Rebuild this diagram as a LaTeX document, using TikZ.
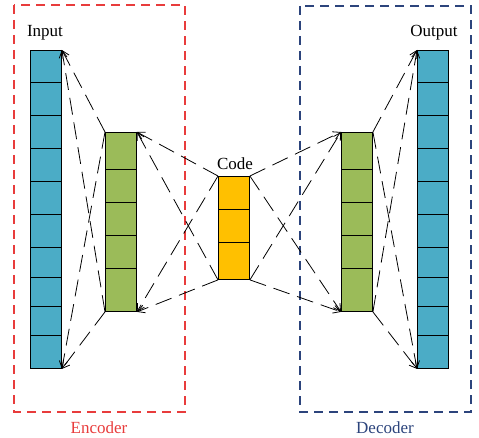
\documentclass[tikz,border=0pt]{standalone}
\usepackage{fontspec}
\setmainfont{Liberation Serif}
\usetikzlibrary{arrows.meta}
\definecolor{cellblue}{RGB}{75,172,198}
\definecolor{cellgreen}{RGB}{155,187,89}
\definecolor{cellgold}{RGB}{255,192,0}
\definecolor{encred}{RGB}{232,60,60}
\definecolor{decblue}{RGB}{44,68,124}
\begin{document}
\begin{tikzpicture}[x=1pt,y=-1pt,
  col/.style={draw=black,line width=0.9pt,inner sep=0pt,anchor=north west,minimum width=31pt},
  divider/.style={line width=0.9pt},
  conn/.style={line width=0.8pt,dash pattern=on 17pt off 8pt,-{Straight Barb[length=7pt,width=8pt]}},
  region/.style={line width=1.3pt,dash pattern=on 9pt off 6pt},
  lbl/.style={font=\fontsize{17}{19}\selectfont,inner sep=0pt}]
\useasboundingbox (0,0) rectangle (479,438);
% columns
\node[col,fill=cellblue,minimum height=318pt] (in) at (30,50) {};
\node[col,fill=cellgreen,minimum height=179pt] (e1) at (105,132) {};
\node[col,fill=cellgold,minimum height=103pt] (code) at (218,176) {};
\node[col,fill=cellgreen,minimum height=179pt] (d1) at (341,132) {};
\node[col,fill=cellblue,minimum height=318pt] (out) at (417,50) {};
% cell dividers
\foreach \yy in {82,115,148,181,214,247,277,306,335}{
  \draw[divider] (in.west |- 0,\yy) -- (in.east |- 0,\yy);
  \draw[divider] (out.west |- 0,\yy) -- (out.east |- 0,\yy);}
\foreach \yy in {169,202,235,268}{
  \draw[divider] (e1.west |- 0,\yy) -- (e1.east |- 0,\yy);
  \draw[divider] (d1.west |- 0,\yy) -- (d1.east |- 0,\yy);}
\foreach \yy in {209,242}{
  \draw[divider] (code.west |- 0,\yy) -- (code.east |- 0,\yy);}
% regions
\draw[region,encred] (14,5) rectangle (185,412);
\draw[region,decblue] (300,6) rectangle (471,412);
% labels
\node[lbl] (lin) at (45,33) {Input};
\node[lbl] (lcode) at (235,164) {Code};
\node[lbl] (lout) at (434,33) {Output};
\node[lbl,text=encred] (lenc) at (99,428) {Encoder};
\node[lbl,text=decblue] (ldec) at (385,428) {Decoder};
% encoder connectors (arrows point back toward input)
\draw[conn] (e1.north west) -- (in.north east);
\draw[conn] (e1.south west) -- (in.north east);
\draw[conn] (e1.north west) -- (in.south east);
\draw[conn] (e1.south west) -- (in.south east);
\draw[conn] (code.north west) -- (e1.north east);
\draw[conn] (code.south west) -- (e1.north east);
\draw[conn] (code.north west) -- (e1.south east);
\draw[conn] (code.south west) -- (e1.south east);
% decoder connectors
\draw[conn] (code.north east) -- (d1.north west);
\draw[conn] (code.north east) -- (d1.south west);
\draw[conn] (code.south east) -- (d1.north west);
\draw[conn] (code.south east) -- (d1.south west);
\draw[conn] (d1.north east) -- (out.north west);
\draw[conn] (d1.north east) -- (out.south west);
\draw[conn] (d1.south east) -- (out.north west);
\draw[conn] (d1.south east) -- (out.south west);
\end{tikzpicture}
\end{document}
